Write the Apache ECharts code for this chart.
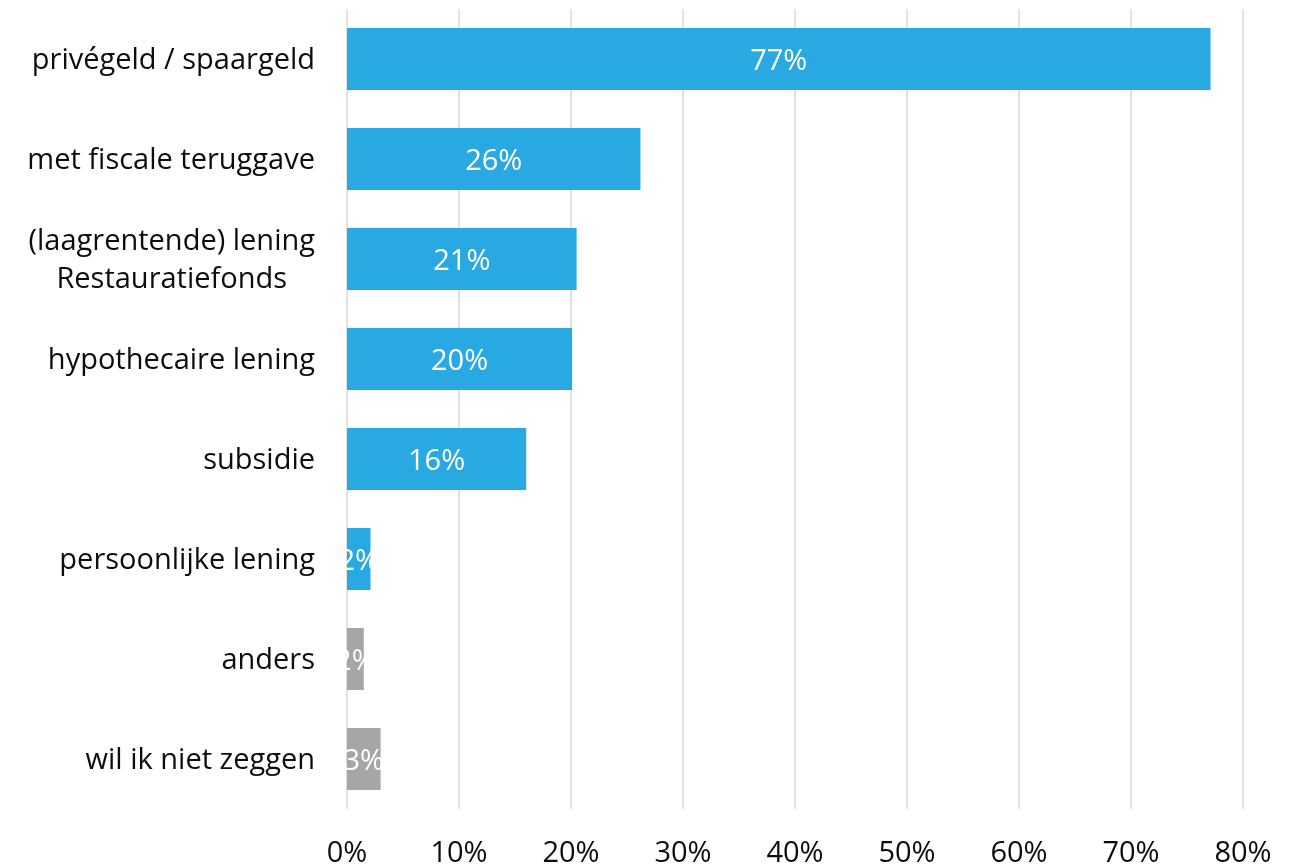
<!DOCTYPE html>
<html>
<head>
<meta charset="utf-8">
<script src="https://cdn.jsdelivr.net/npm/echarts@6/dist/echarts.min.js"></script>
<style>
html,body{margin:0;padding:0;background:#fff;}
#chart{width:1298px;height:868px;}
</style>
</head>
<body>
<div id="chart"></div>
<script>
const categories = [
  'privégeld / spaargeld',
  'met fiscale teruggave',
  '(laagrentende) lening\nRestauratiefonds',
  'hypothecaire lening',
  'subsidie',
  'persoonlijke lening',
  'anders',
  'wil ik niet zeggen'
];
const values = [77.1, 26.2, 20.5, 20.1, 16.0, 2.1, 1.5, 3.0];
const xTicks = { min: 0, max: 80, interval: 10 };
const barColors = ['#29A9E1','#29A9E1','#29A9E1','#29A9E1','#29A9E1','#29A9E1','#A6A6A6','#A6A6A6'];

const FONT = '"Open Sans", "Noto Sans", sans-serif';
const chart = echarts.init(document.getElementById('chart'), null, {renderer: 'canvas'});
chart.setOption({
  animation: false,
  backgroundColor: '#ffffff',
  grid: { left: 347, right: 55, top: 9, bottom: 58, containLabel: false },
  xAxis: {
    type: 'value',
    min: xTicks.min, max: xTicks.max, interval: xTicks.interval,
    axisLine: { show: false },
    axisTick: { show: false },
    splitLine: { show: true, lineStyle: { color: '#d9d9d9', width: 1.5 } },
    axisLabel: {
      formatter: '{value}%',
      fontFamily: FONT, fontSize: 29, color: '#0d0d0d', margin: 30
    }
  },
  yAxis: {
    type: 'category',
    inverse: true,
    data: categories,
    axisLine: { show: false },
    axisTick: { show: false },
    splitLine: { show: false },
    axisLabel: {
      margin: 32,
      formatter: v => '{c|' + v.split('\n').join('}\n{c|') + '}',
      rich: {
        c: { fontFamily: FONT, fontSize: 29, color: '#0d0d0d', lineHeight: 38, align: 'center', padding: [4, 0, 0, 0] }
      }
    }
  },
  series: [{
    type: 'bar',
    barCategoryGap: '38%',
    data: values.map((v, i) => ({ value: v, itemStyle: { color: barColors[i] } })),
    label: {
      show: true,
      position: 'inside',
      color: '#ffffff',
      fontFamily: FONT,
      fontSize: 29,
      offset: [0, 3],
      formatter: p => Math.round(p.value) + '%'
    }
  }]
});
</script>
</body>
</html>
